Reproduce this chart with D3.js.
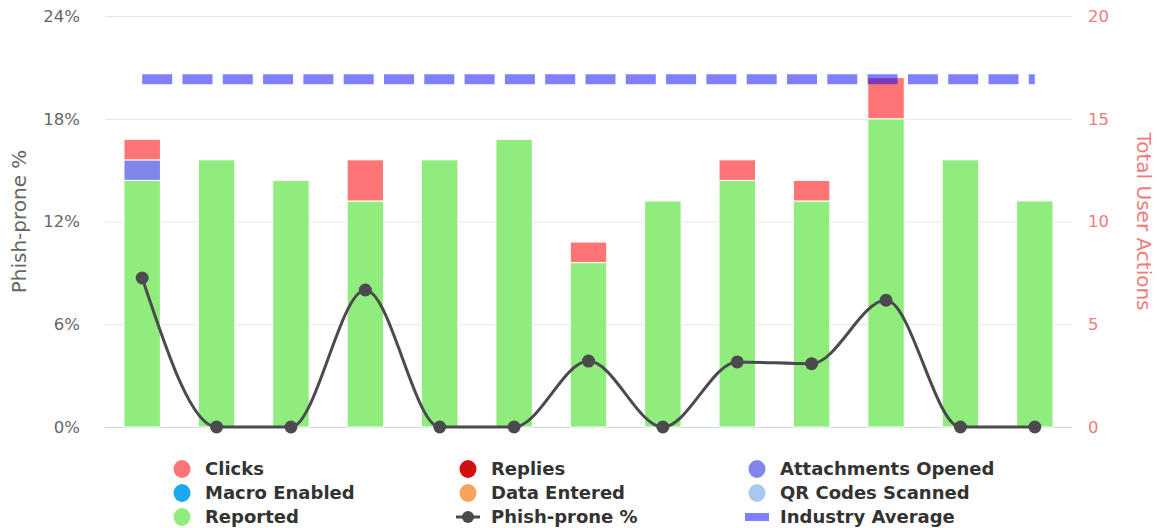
<!DOCTYPE html>
<html>
<head>
<meta charset="utf-8">
<script src="https://cdn.jsdelivr.net/npm/d3@7"></script>
<style>
  body { margin: 0; background: #fff; }
  svg { display: block; font-family: "DejaVu Sans", sans-serif; }
</style>
</head>
<body>
<div id="chart"></div>
<script>
// Campaigns (no x labels shown on the chart)
const campaigns = ["1", "2", "3", "4", "5", "6", "7", "8", "9", "10", "11", "12", "13"];

// User actions per campaign (right axis)
const clicks      = [1, 0, 0, 2, 0, 0, 1, 0, 1, 1, 2, 0, 0];
const replies     = [0, 0, 0, 0, 0, 0, 0, 0, 0, 0, 0, 0, 0];
const attachments = [1, 0, 0, 0, 0, 0, 0, 0, 0, 0, 0, 0, 0];
const macros      = [0, 0, 0, 0, 0, 0, 0, 0, 0, 0, 0, 0, 0];
const dataEntered = [0, 0, 0, 0, 0, 0, 0, 0, 0, 0, 0, 0, 0];
const qrScanned   = [0, 0, 0, 0, 0, 0, 0, 0, 0, 0, 0, 0, 0];
const reported    = [12, 13, 12, 11, 13, 14, 8, 11, 12, 11, 15, 13, 11];

// Phish-prone % (left axis)
const phishProne = [8.7, 0, 0, 8.0, 0, 0, 3.85, 0, 3.8, 3.7, 7.4, 0, 0];
const industryAverage = 20.3;

const leftTicks = [0, 6, 12, 18, 24];
const rightTicks = [0, 5, 10, 15, 20];

// series in stacking order (bottom first)
const stackSeries = [
    { name: "Reported", values: reported, color: "#90ed7d" },
    { name: "QR Codes Scanned", values: qrScanned, color: "#a7c8ef" },
    { name: "Data Entered", values: dataEntered, color: "#f7a35c" },
    { name: "Macro Enabled", values: macros, color: "#1aa8f2" },
    { name: "Attachments Opened", values: attachments, color: "#8085e9" },
    { name: "Replies", values: replies, color: "#d00f0f" },
    { name: "Clicks", values: clicks, color: "#ff7474" }
];

const width = 1157, height = 528;
const margin = { top: 16, right: 85, bottom: 101, left: 105 };
const font = "'DejaVu Sans', sans-serif";

const svg = d3.select("#chart").append("svg")
    .attr("width", width)
    .attr("height", height);

const x = d3.scaleBand()
    .domain(campaigns)
    .range([margin.left, width - margin.right])
    .paddingInner(0.51)
    .paddingOuter(0.255);

const yLeft = d3.scaleLinear().domain([0, 24]).range([height - margin.bottom, margin.top]);
const yRight = d3.scaleLinear().domain([0, 20]).range([height - margin.bottom, margin.top]);

// Gridlines
svg.append("g")
    .selectAll("line")
    .data(leftTicks)
    .enter()
    .append("line")
    .attr("x1", margin.left)
    .attr("x2", width - margin.right)
    .attr("y1", d => yLeft(d) + 0.5)
    .attr("y2", d => yLeft(d) + 0.5)
    .attr("stroke", d => d === 0 ? "#ccd6eb" : "#e6e6e6")
    .attr("stroke-width", 1);

// Left axis
const leftAxis = svg.append("g")
    .attr("transform", `translate(${margin.left - 25},0)`)
    .call(d3.axisLeft(yLeft).tickValues(leftTicks).tickFormat(d => d + "%").tickSize(0).tickPadding(0));
leftAxis.select(".domain").remove();
leftAxis.attr("font-family", null);
leftAxis.selectAll("text")
    .attr("fill", "#666")
    .style("font-family", font)
    .style("font-size", "16.5px");

svg.append("text")
    .attr("transform", `translate(26, ${(margin.top + height - margin.bottom) / 2}) rotate(-90)`)
    .attr("text-anchor", "middle")
    .attr("fill", "#666")
    .style("font-family", font)
    .style("font-size", "20px")
    .text("Phish-prone %");

// Right axis
const rightAxis = svg.append("g")
    .attr("transform", `translate(${width - margin.right + 16},0)`)
    .call(d3.axisRight(yRight).tickValues(rightTicks).tickSize(0).tickPadding(0));
rightAxis.select(".domain").remove();
rightAxis.attr("font-family", null);
rightAxis.selectAll("text")
    .attr("fill", "#f07b7b")
    .style("font-family", font)
    .style("font-size", "16.5px");

svg.append("text")
    .attr("transform", `translate(1137, ${(margin.top + height - margin.bottom) / 2}) rotate(90)`)
    .attr("text-anchor", "middle")
    .attr("fill", "#f07b7b")
    .style("font-family", font)
    .style("font-size", "20px")
    .text("Total User Actions");

// Stacked bars
const stackData = campaigns.map((c, i) => {
    const row = { campaign: c };
    stackSeries.forEach(s => { row[s.name] = s.values[i]; });
    return row;
});
const stacked = d3.stack().keys(stackSeries.map(s => s.name))(stackData);

svg.append("g")
    .selectAll("g")
    .data(stacked)
    .enter()
    .append("g")
    .attr("fill", (d, i) => stackSeries[i].color)
    .selectAll("rect")
    .data(d => d.filter(p => p[1] - p[0] > 0))
    .enter()
    .append("rect")
    .attr("x", d => x(d.data.campaign))
    .attr("width", x.bandwidth())
    .attr("y", d => yRight(d[1]))
    .attr("height", d => yRight(d[0]) - yRight(d[1]))
    .attr("stroke", "#fff")
    .attr("stroke-width", 1);

// Industry average dashed line
const cx = c => x(c) + x.bandwidth() / 2;
svg.append("line")
    .attr("x1", cx(campaigns[0]))
    .attr("x2", cx(campaigns[campaigns.length - 1]))
    .attr("y1", yLeft(industryAverage))
    .attr("y2", yLeft(industryAverage))
    .attr("stroke", "#0000ff")
    .attr("stroke-opacity", 0.5)
    .attr("stroke-width", 10)
    .attr("stroke-dasharray", "30,10.3");

// Phish-prone % spline
const line = d3.line()
    .x((d, i) => cx(campaigns[i]))
    .y(d => yLeft(d))
    .curve(d3.curveMonotoneX);

svg.append("path")
    .datum(phishProne)
    .attr("d", line)
    .attr("fill", "none")
    .attr("stroke", "#4a4a4f")
    .attr("stroke-width", 3);

svg.append("g")
    .selectAll("circle")
    .data(phishProne)
    .enter()
    .append("circle")
    .attr("cx", (d, i) => cx(campaigns[i]))
    .attr("cy", d => yLeft(d))
    .attr("r", 6.5)
    .attr("fill", "#4a4a4f");

// Legend
const legendItems = [
    { name: "Clicks", color: "#ff7474", type: "dot" },
    { name: "Replies", color: "#d00f0f", type: "dot" },
    { name: "Attachments Opened", color: "#8085e9", type: "dot" },
    { name: "Macro Enabled", color: "#1aa8f2", type: "dot" },
    { name: "Data Entered", color: "#f7a35c", type: "dot" },
    { name: "QR Codes Scanned", color: "#a7c8ef", type: "dot" },
    { name: "Reported", color: "#90ed7d", type: "dot" },
    { name: "Phish-prone %", color: "#4a4a4f", type: "line" },
    { name: "Industry Average", color: "#7f7fff", type: "bar" }
];
const colX = [182, 468, 757];
const rowY = [469, 493, 517];

const legend = svg.append("g");
legendItems.forEach((item, i) => {
    const g = legend.append("g")
        .attr("transform", `translate(${colX[i % 3]},${rowY[Math.floor(i / 3)]})`);
    if (item.type === "dot") {
        g.append("ellipse").attr("rx", 8.5).attr("ry", 9).attr("fill", item.color);
    } else if (item.type === "line") {
        g.append("line").attr("x1", -12).attr("x2", 12).attr("stroke", item.color).attr("stroke-width", 3);
        g.append("circle").attr("r", 6).attr("fill", item.color);
    } else {
        g.append("rect").attr("x", -12).attr("y", -4).attr("width", 24).attr("height", 8).attr("fill", item.color);
    }
    g.append("text")
        .attr("x", 23)
        .attr("dy", "0.36em")
        .attr("fill", "#333")
        .style("font-family", font)
        .style("font-weight", "bold")
        .style("font-size", "18px")
        .text(item.name);
});
</script>
</body>
</html>
